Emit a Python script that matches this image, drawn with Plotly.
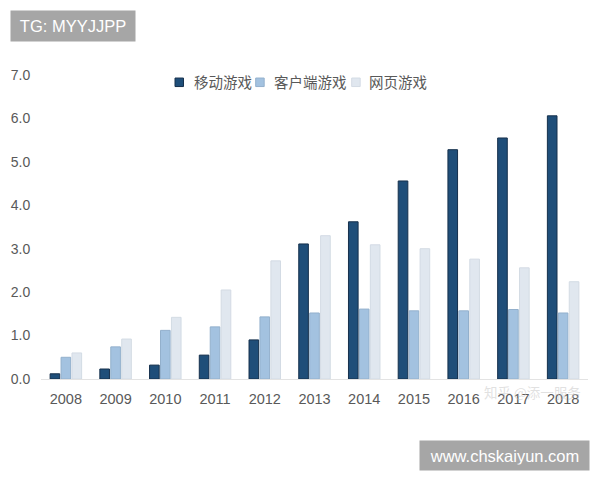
import plotly.graph_objects as go

years = ['2008', '2009', '2010', '2011', '2012', '2013', '2014', '2015', '2016', '2017', '2018']
mobile = [0.12, 0.23, 0.32, 0.55, 0.90, 3.11, 3.62, 4.56, 5.28, 5.55, 6.06]
client = [0.50, 0.74, 1.12, 1.20, 1.43, 1.52, 1.61, 1.57, 1.57, 1.60, 1.52]
web = [0.60, 0.92, 1.42, 2.05, 2.72, 3.30, 3.09, 3.00, 2.76, 2.56, 2.24]

names = ['移动游戏', '客户端游戏', '网页游戏']
colors = ['#1f4e79', '#a3c2e0', '#e0e7ef']
edges = ['#16304c', '#93b0cc', '#d3dbe4']

fig = go.Figure()
for name, vals, col, edge in zip(names, [mobile, client, web], colors, edges):
    fig.add_trace(go.Bar(
        x=years, y=vals, name=name, showlegend=False,
        marker=dict(color=col, line=dict(color=edge, width=1)),
    ))

# hand-made legend, tighter than plotly's own
sq_x = [0.245, 0.3925, 0.568]
txt_x = [0.276, 0.4223, 0.596]
for name, col, edge, sx, tx in zip(names, colors, edges, sq_x, txt_x):
    fig.add_shape(type='rect', xref='paper', yref='paper',
                  x0=sx, x1=sx + 0.0155, y0=0.962, y1=0.99,
                  fillcolor=col, line=dict(color=edge, width=1))
    fig.add_annotation(xref='paper', yref='paper', x=tx, y=0.977,
                       xanchor='left', yanchor='middle', text=name, showarrow=False,
                       font=dict(family='Noto Sans CJK SC', size=14.5, color='#595959'))

# page body has an 8px margin, so the figure is 592x472 and sits at (8, 8)
fig.add_annotation(
    xref='paper', yref='paper', x=-0.0567, y=1.2138, xanchor='left', yanchor='top',
    text='TG: MYYJJPP', showarrow=False, bgcolor='#a6a6a6', width=112,
    font=dict(family='Liberation Sans', size=16.5, color='white'),
    borderpad=6,
)
fig.add_annotation(
    xref='paper', yref='paper', x=1.0037, y=-0.2007, xanchor='right', yanchor='top',
    text='www.chskaiyun.com', showarrow=False, bgcolor='#a6a6a6', width=158,
    font=dict(family='Liberation Sans', size=16.5, color='white'),
    borderpad=5.5,
)
fig.add_annotation(
    xref='paper', yref='paper', x=0.99, y=-0.003, xanchor='right', yanchor='top',
    text='知乎 @添一服务', showarrow=False,
    font=dict(family='Noto Sans CJK SC', size=13.5, color='rgba(200,200,200,0.55)'),
)

fig.update_layout(
    width=592, height=472,
    margin=dict(l=33, r=12, t=67, b=101),
    barmode='group', bargap=0.34, bargroupgap=0.12,
    plot_bgcolor='white', paper_bgcolor='white',
    font=dict(family='Liberation Sans', color='#595959', size=14),
    showlegend=False,
    xaxis=dict(
        automargin=False,
        showgrid=False, showline=True, linecolor='#e3e3e3', linewidth=1,
        ticks='outside', ticklen=7, tickcolor='rgba(0,0,0,0)',
        tickfont=dict(size=14.5, color='#595959'),
    ),
    yaxis=dict(
        automargin=False,
        range=[0, 7], dtick=1, tickformat='.1f', showgrid=False,
        zeroline=False, showline=False,
        ticks='outside', ticklen=7, tickcolor='rgba(0,0,0,0)',
        tickfont=dict(size=14, color='#595959'),
    ),
)

fig.write_html('out.html')
